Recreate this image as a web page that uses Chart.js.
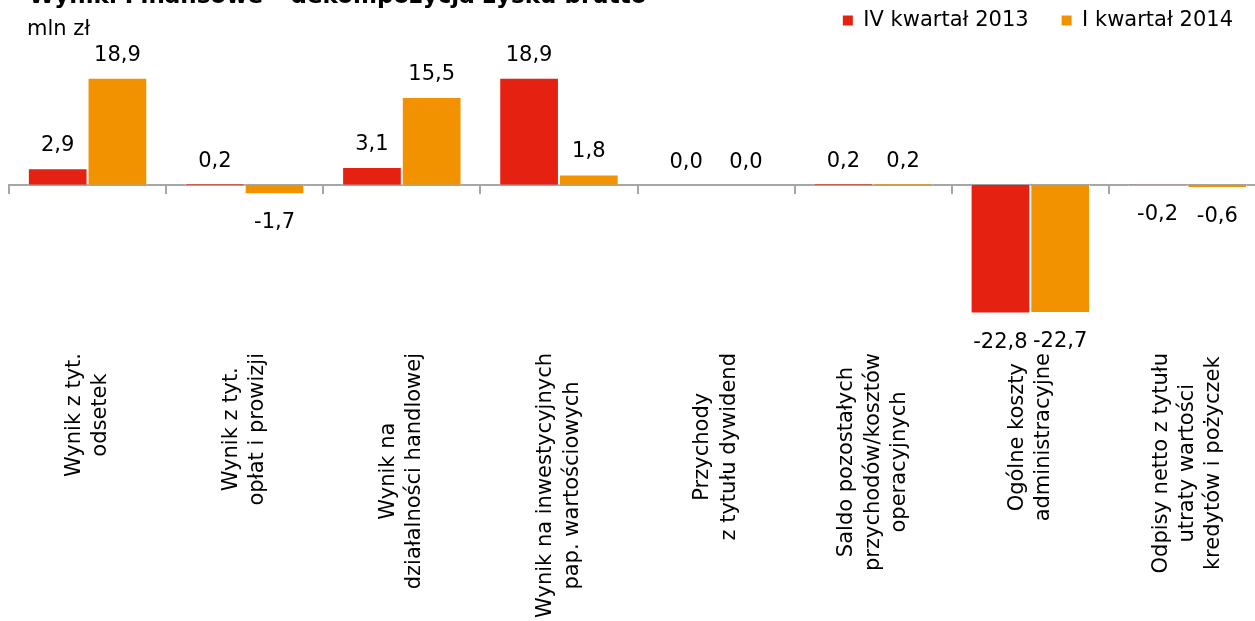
<!DOCTYPE html>
<html>
<head>
<meta charset="utf-8">
<script src="https://cdn.jsdelivr.net/npm/chart.js@4.4.1/dist/chart.umd.min.js"></script>
<style>
html,body{margin:0;padding:0;background:#fff;overflow:hidden;width:1255px;height:621px;}
#wrap{position:absolute;left:0;top:-23px;width:1266px;height:680px;}
.txt{position:absolute;font-family:"DejaVu Sans",Verdana,sans-serif;color:#000;white-space:nowrap;z-index:2;}
#title{left:29px;top:-16px;font-size:23px;line-height:23px;font-weight:bold;}
#unit{left:27px;top:18px;font-size:21px;line-height:21px;}
</style>
</head>
<body>
<div id="title" class="txt">Wyniki Finansowe – dekompozycja zysku brutto</div>
<div id="unit" class="txt">mln zł</div>
<div id="wrap"><canvas id="c"></canvas></div>
<script>
// ---- data ----
const categories = [
  ['Wynik z tyt.', 'odsetek'],
  ['Wynik z tyt.', 'opłat i prowizji'],
  ['Wynik na', 'działalności handlowej'],
  ['Wynik na inwestycyjnych', 'pap. wartościowych'],
  ['Przychody', 'z tytułu dywidend'],
  ['Saldo pozostałych', 'przychodów/kosztów', 'operacyjnych'],
  ['Ogólne koszty', 'administracyjne'],
  ['Odpisy netto z tytułu', 'utraty wartości', 'kredytów i pożyczek']
];
const seriesNames = ['IV kwartał 2013', 'I kwartał 2014'];
const q4_2013 = [2.9, 0.2, 3.1, 18.9, 0.0, 0.2, -22.8, -0.2];
const q1_2014 = [18.9, -1.7, 15.5, 1.8, 0.0, 0.2, -22.7, -0.6];

// ---- style ----
const FONT = '"DejaVu Sans", Verdana, sans-serif';
const RED = '#E52212';
const ORANGE = '#F39200';
const AXIS = '#A6A6A6';
const LABEL_GAP = 10;

const fmt = v => v.toFixed(1).replace('.', ',');

const valueLabels = {
  id: 'valueLabels',
  afterDatasetsDraw(chart) {
    const ctx = chart.ctx;
    ctx.save();
    ctx.font = '21px ' + FONT;
    ctx.fillStyle = '#000';
    ctx.textAlign = 'center';
    ctx.textBaseline = 'alphabetic';
    chart.data.datasets.forEach((ds, di) => {
      const meta = chart.getDatasetMeta(di);
      meta.data.forEach((bar, i) => {
        const v = ds.data[i];
        const y = v >= 0 ? bar.y - 17 : bar.y + 34;
        ctx.fillText(fmt(v), bar.x, y);
      });
    });
    ctx.restore();
  }
};

// center multi-line rotated category labels on their tick (like the original)
const labelCenter = {
  id: 'labelCenter',
  afterLayout(chart) {
    const sc = chart.scales.x;
    if (!sc || typeof sc.getLabelItems !== 'function') return;
    sc._labelItems = null;
    const items = sc.getLabelItems(chart.chartArea);
    const ctx = chart.ctx;
    items.forEach((it, i) => {
      const lines = Array.isArray(it.label) ? it.label : [it.label];
      ctx.save();
      ctx.font = it.font.string;
      const maxW = Math.max(...lines.map(l => ctx.measureText(l).width));
      ctx.restore();
      const lh = it.font.lineHeight;
      it.textOffset = -(lines.length - 1) / 2 * lh;
      it.options.textAlign = 'center';
      it.options.textBaseline = 'middle';
      it.options.translation = [sc.getPixelForTick(i), sc.top + LABEL_GAP + maxW / 2];
    });
  }
};

new Chart(document.getElementById('c'), {
  type: 'bar',
  data: {
    labels: categories,
    datasets: [
      { label: seriesNames[0], data: q4_2013, backgroundColor: RED, borderColor: 'rgba(255,255,255,0.75)', borderWidth: 1, xAxisID: 'x', yAxisID: 'y' },
      { label: seriesNames[1], data: q1_2014, backgroundColor: ORANGE, borderColor: 'rgba(255,255,255,0.75)', borderWidth: 1, xAxisID: 'x', yAxisID: 'y' }
    ]
  },
  options: {
    responsive: true,
    maintainAspectRatio: false,
    animation: false,
    layout: { padding: { left: 9, right: 0, top: 0, bottom: 0 } },
    datasets: { bar: { categoryPercentage: 0.76, barPercentage: 1 } },
    scales: {
      x: {
        type: 'category',
        position: 'bottom',
        offset: true,
        grid: { display: false, drawTicks: false, offset: true },
        border: { display: false },
        ticks: {
          autoSkip: false, maxRotation: 90, minRotation: 90, padding: LABEL_GAP,
          color: '#000', font: { family: FONT, size: 21, lineHeight: 1.25 }
        },
        afterFit(scale) { scale.height = 314; scale.paddingLeft = 0; scale.paddingRight = 0; }
      },
      x2: {
        type: 'category',
        axis: 'x',
        position: { y: 0 },
        offset: true,
        grid: { offset: true, drawOnChartArea: false, drawTicks: true, tickLength: 8, color: AXIS, lineWidth: 2 },
        border: { display: true, color: AXIS, width: 2 },
        ticks: { display: false }
      },
      y: {
        display: false,
        min: -28,
        max: 25.4
      }
    },
    plugins: {
      title: { display: false },
      tooltip: { enabled: false },
      legend: {
        display: true,
        position: 'top',
        align: 'end',
        labels: {
          boxWidth: 10, boxHeight: 10, padding: 33, color: '#000',
          font: { family: FONT, size: 21 },
          generateLabels: (chart) => Chart.defaults.plugins.legend.labels.generateLabels(chart).map(l => Object.assign(l, { lineWidth: 0 }))
        }
      }
    }
  },
  plugins: [valueLabels, labelCenter]
});
</script>
</body>
</html>
